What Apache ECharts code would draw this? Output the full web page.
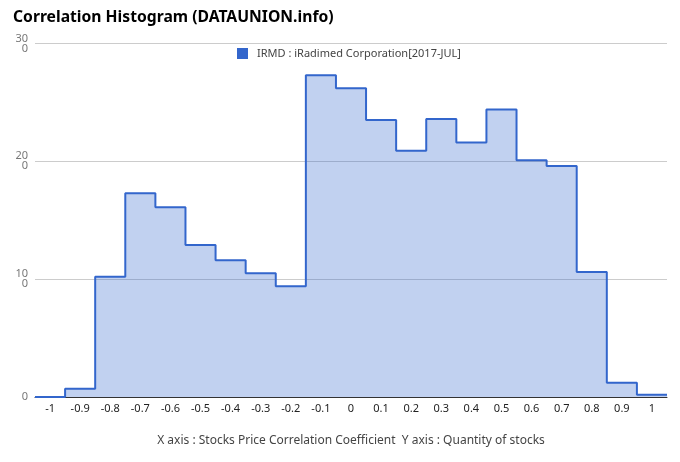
<!DOCTYPE html>
<html>
<head>
<meta charset="utf-8">
<script src="https://cdn.jsdelivr.net/npm/echarts@6/dist/echarts.min.js"></script>
<style>html,body{margin:0;padding:0;background:#fff;}#c{width:680px;height:462px;}</style>
</head>
<body>
<div id="c"></div>
<script>
const categories = ['-1','-0.9','-0.8','-0.7','-0.6','-0.5','-0.4','-0.3','-0.2','-0.1','0','0.1','0.2','0.3','0.4','0.5','0.6','0.7','0.8','0.9','1'];
const binCenters = [-1,-0.9,-0.8,-0.7,-0.6,-0.5,-0.4,-0.3,-0.2,-0.1,0,0.1,0.2,0.3,0.4,0.5,0.6,0.7,0.8,0.9,1];
const counts = [0,7,102,173,161,129,116,105,94,273,262,235,209,236,216,244,201,196,106,12,2];
const seriesName = 'IRMD : iRadimed Corporation[2017-JUL]';
const yTicks = [0,100,200,300];

const half = 0.05;
const stepData = binCenters.map((c,i)=>[+(c-half).toFixed(2), counts[i]]);
stepData.push([+(binCenters[binCenters.length-1]+half).toFixed(2), counts[counts.length-1]]);

const FONT = 'Noto Sans';
const chart = echarts.init(document.getElementById('c'), null, {renderer:'canvas'});
chart.setOption({
  animation:false,
  textStyle:{fontFamily:FONT},
  title:[{
    text:'Correlation Histogram (DATAUNION.info)',
    left:8, top:5,
    textStyle:{fontFamily:FONT,fontSize:15.7,fontWeight:'bold',color:'#000'}
  },{
    text:'X axis : Stocks Price Correlation Coefficient  Y axis : Quantity of stocks',
    left:346, top:430, textAlign:'center',
    textStyle:{fontFamily:FONT,fontSize:12,fontWeight:'normal',color:'#444'}
  }],
  legend:{
    data:[seriesName], left:232, top:43,
    icon:'rect', itemWidth:11, itemHeight:11, itemGap:5,
    textStyle:{fontFamily:FONT,fontSize:11,color:'#444',padding:[0,0,0,4]}
  },
  grid:{left:35,right:13,top:43.5,bottom:65},
  xAxis:[{
    type:'value', min:-1.05, max:1.05, show:false
  },{
    type:'category', data:categories, boundaryGap:true, position:'bottom',
    axisLine:{show:true,lineStyle:{color:'#333',width:1}},
    axisTick:{show:false},
    axisLabel:{color:'#222',fontSize:11,fontFamily:FONT,margin:6,interval:0},
    splitLine:{show:false}
  }],
  yAxis:{
    type:'value', min:yTicks[0], max:yTicks[yTicks.length-1], interval:100,
    axisLine:{show:false}, axisTick:{show:false},
    axisLabel:{color:'#777',fontSize:11,fontFamily:FONT,margin:7,lineHeight:10,
      formatter:v=>{const s=String(v);return s.length>2?s.slice(0,2)+'\n'+s.slice(2):s;}},
    splitLine:{lineStyle:{color:'#ccc',width:1}}
  },
  series:[{
    name:seriesName, type:'line', xAxisIndex:0, step:'end',
    data:stepData, symbol:'none',
    lineStyle:{color:'#3366cc',width:2},
    itemStyle:{color:'#3366cc'},
    areaStyle:{color:'#3366cc',opacity:0.3}
  }]
});
</script>
</body>
</html>
